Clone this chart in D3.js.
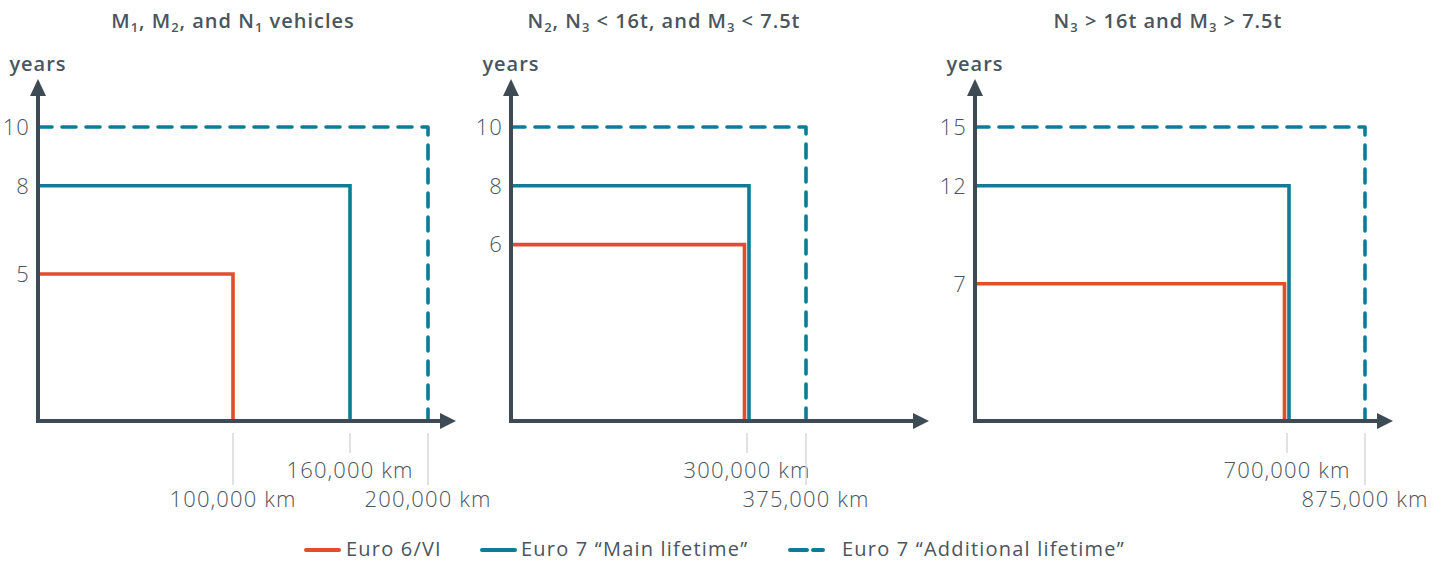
<!DOCTYPE html>
<html lang="en">
<head>
    <meta charset="utf-8">
    <title>Euro 6 vs Euro 7 lifetimes</title>
    <script src="https://d3js.org/d3.v7.min.js" charset="utf-8"></script>
    <style type="text/css">
        body { margin: 0; background: #fff; }
        text { font-family: "Open Sans", sans-serif; fill: #4a5560; }
        .title, .ylab { font-weight: 600; font-size: 20px; letter-spacing: 1px; }
        .tick { font-size: 22px; font-weight: 300; letter-spacing: 1.1px; }
        .legend { font-size: 20px; font-weight: 500; letter-spacing: 1.2px; }
    </style>
</head>
<body>
    <script type="text/javascript">
	// data
	var panelTitles = ["M_1, M_2, and N_1 vehicles", "N_2, N_3 < 16t, and M_3 < 7.5t", "N_3 > 16t and M_3 > 7.5t"];
	var yearTicks = [[5, 8, 10], [6, 8, 10], [7, 12, 15]];
	var euro6Km = [100000, 300000, 700000];
	var euro6Years = [5, 6, 7];
	var mainKm = [160000, 300000, 700000];
	var mainYears = [8, 8, 12];
	var addKm = [200000, 375000, 875000];
	var addYears = [10, 10, 15];
	var kmTicks = [[100000, 160000, 200000], [300000, 375000], [700000, 875000]];
	var legendLabels = ["Euro 6/VI", "Euro 7 \u201cMain lifetime\u201d", "Euro 7 \u201cAdditional lifetime\u201d"];

	// layout
	var width = 1444, height = 562;
	var originX = [38, 511, 975], kmWidth = [390, 295, 390];
	var titleX = [233, 664, 1168];
	var baseY = 421, topY = 127, axisLen = 418;
	var red = "#e04e2b", teal = "#0e7c96", axisCol = "#3e4a54";

	var svg = d3.select("body").append("svg")
		.attr("width", width)
		.attr("height", height);

	var fmt = d3.format(",");

	// "_1" style markers become subscripts
	function richText(sel, str) {
		var shift = 0;
		str.split(/(_\d)/).forEach(function (part) {
			if (!part) return;
			if (part[0] === "_") {
				sel.append("tspan").attr("font-size", "13px").attr("dy", 4).text(part[1]);
				shift = -4;
			} else {
				sel.append("tspan").attr("dy", shift).text(part);
				shift = 0;
			}
		});
	}

	panelTitles.forEach(function (title, i) {
		var x0 = originX[i];
		var x = d3.scaleLinear().domain([0, addKm[i]]).range([x0, x0 + kmWidth[i]]);
		var y = d3.scaleLinear().domain([0, addYears[i]]).range([baseY, topY]);
		var g = svg.append("g");

		g.append("text").attr("class", "title")
			.attr("x", titleX[i]).attr("y", 28)
			.attr("text-anchor", "middle")
			.call(richText, title);

		g.append("text").attr("class", "ylab")
			.attr("x", x0).attr("y", 71)
			.attr("text-anchor", "middle")
			.text("years");

		// y tick labels
		g.selectAll(".ytick").data(yearTicks[i]).enter().append("text")
			.attr("class", "tick")
			.attr("x", x0 - 8)
			.attr("y", function (d) { return y(d); })
			.attr("dy", "0.35em")
			.attr("text-anchor", "end")
			.text(function (d) { return d; });

		// km ticks: main lifetime label sits on the upper row
		g.selectAll(".xtick").data(kmTicks[i]).enter().append("g")
			.each(function (d) {
				var up = d === mainKm[i];
				var t = d3.select(this);
				t.append("line")
					.attr("x1", x(d)).attr("x2", x(d))
					.attr("y1", 433).attr("y2", up ? 453 : 485)
					.attr("stroke", "#cfd2d4").attr("stroke-width", 1.3);
				t.append("text").attr("class", "tick")
					.attr("x", x(d)).attr("y", up ? 478 : 507)
					.attr("text-anchor", "middle")
					.text(fmt(d) + " km");
			});

		var same = euro6Km[i] === mainKm[i];
		var line = d3.line();
		function box(km, yr, dx) {
			return line([[x0, y(yr)], [x(km) + dx, y(yr)], [x(km) + dx, baseY]]);
		}
		g.append("path").attr("d", box(addKm[i], addYears[i], 0))
			.attr("fill", "none").attr("stroke", teal).attr("stroke-width", 3.6)
			.attr("stroke-dasharray", "14 10").attr("stroke-linecap", "round")
			.attr("stroke-linejoin", "round");
		g.append("path").attr("d", box(mainKm[i], mainYears[i], same ? 2 : 0))
			.attr("fill", "none").attr("stroke", teal).attr("stroke-width", 3.6);
		g.append("path").attr("d", box(euro6Km[i], euro6Years[i], same ? -2.5 : 0))
			.attr("fill", "none").attr("stroke", red).attr("stroke-width", 3.6);

		// axes with arrowheads
		g.append("path")
			.attr("d", line([[x0, 94], [x0, baseY], [x0 + axisLen - 14, baseY]]))
			.attr("fill", "none").attr("stroke", axisCol).attr("stroke-width", 4);
		g.append("path")
			.attr("d", line([[x0 - 8, 96], [x0, 79], [x0 + 8, 96]]) + "Z")
			.attr("fill", axisCol);
		g.append("path")
			.attr("d", line([[x0 + axisLen - 16, baseY - 8], [x0 + axisLen, baseY], [x0 + axisLen - 16, baseY + 8]]) + "Z")
			.attr("fill", axisCol);
	});

	// legend
	var legX = [306, 482, 790], legTextX = [346, 521, 842], legY = 550;
	legendLabels.forEach(function (lab, i) {
		var lg = svg.append("g");
		lg.append("line")
			.attr("x1", legX[i]).attr("x2", legX[i] + 33)
			.attr("y1", legY).attr("y2", legY)
			.attr("stroke", i === 0 ? red : teal).attr("stroke-width", 4)
			.attr("stroke-linecap", "round")
			.attr("stroke-dasharray", i === 2 ? "17 6" : null);
		lg.append("text").attr("class", "legend")
			.attr("x", legTextX[i]).attr("y", legY + 6)
			.text(lab);
	});
    </script>
</body>
</html>
